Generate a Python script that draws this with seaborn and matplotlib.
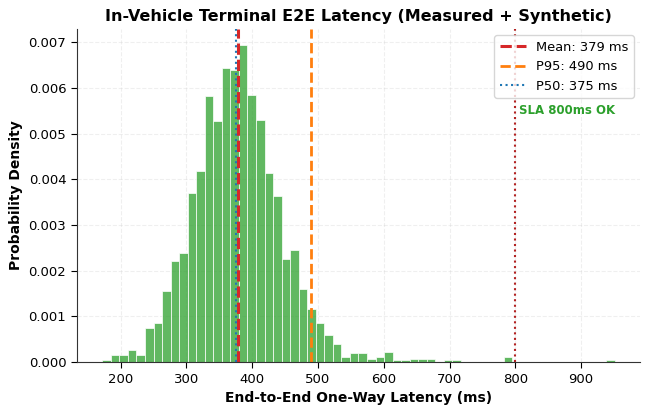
import numpy as np
import pandas as pd
import matplotlib
matplotlib.use("Agg")
import matplotlib.pyplot as plt
import seaborn as sns

# histogram: 60 bins between 172 and 951 ms, counts per bin (N ~ 2000)
bin_lo, bin_hi, n_bins = 172, 951, 60
counts = [
    1, 4, 4, 7, 4, 19, 22, 40, 57, 61,
    95, 107, 149, 135, 165, 164, 178, 150, 136, 106,
    93, 58, 63, 41, 30, 22, 15, 10, 3, 5,
    5, 2, 3, 6, 1, 1, 2, 2, 2, 0,
    1, 1, 0, 0, 0, 0, 0, 3, 0, 0,
    0, 0, 0, 0, 0, 0, 0, 0, 0, 1,
]

mean_ms = 379
p95_ms = 490
p50_ms = 375
sla_ms = 800

edges = np.linspace(bin_lo, bin_hi, n_bins + 1)
centers = (edges[:-1] + edges[1:]) / 2
df = pd.DataFrame({"latency": np.repeat(centers, counts)})

sns.set_style("white")
plt.rcParams["font.family"] = ["DejaVu Sans"]
plt.rcParams["text.color"] = "black"
plt.rcParams["axes.labelcolor"] = "black"
plt.rcParams["xtick.color"] = "black"
plt.rcParams["ytick.color"] = "black"
plt.rcParams["axes.edgecolor"] = "#333333"

fig, ax = plt.subplots(figsize=(6.5, 4.13), dpi=100)

sns.histplot(
    data=df, x="latency", bins=n_bins, binrange=(bin_lo, bin_hi),
    stat="density", color="tab:green", alpha=0.75,
    edgecolor="white", linewidth=0.5, ax=ax,
)

ax.axvline(mean_ms, color="tab:red", linestyle="--", linewidth=2.2,
           label=f"Mean: {mean_ms} ms")
ax.axvline(p95_ms, color="tab:orange", linestyle="--", linewidth=2,
           label=f"P95: {p95_ms} ms")
ax.axvline(p50_ms, color="tab:blue", linestyle=":", linewidth=1.5,
           label=f"P50: {p50_ms} ms")
ax.axvline(sla_ms, color="#b22222", linestyle=":", linewidth=1.5)
ax.text(sla_ms + 5, 0.0055, "SLA 800ms OK", color="tab:green",
        fontsize=8.5, fontweight="bold", va="center")

ax.set_title("In-Vehicle Terminal E2E Latency (Measured + Synthetic)",
             fontsize=11.5, fontweight="bold")
ax.set_xlabel("End-to-End One-Way Latency (ms)", fontsize=10, fontweight="bold")
ax.set_ylabel("Probability Density", fontsize=10, fontweight="bold")
ax.tick_params(labelsize=9.5, length=4, left=True, bottom=True)
ax.grid(True, linestyle="--", alpha=0.3)
ax.set_axisbelow(True)
ax.legend(loc="upper right", fontsize=9.4)
sns.despine(ax=ax)

fig.subplots_adjust(left=0.118, right=0.985, top=0.93, bottom=0.123)
plt.savefig("out.png", dpi=100)
